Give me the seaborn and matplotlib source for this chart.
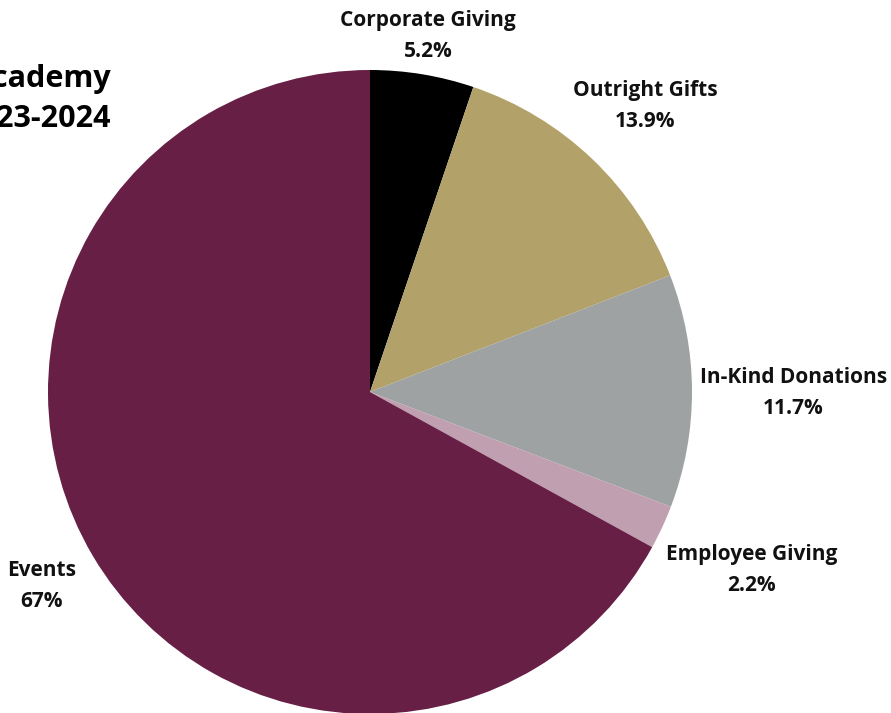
import numpy as np
import seaborn as sns
import matplotlib.pyplot as plt

# --- DATA ---
categories = ["Corporate Giving", "Outright Gifts", "In-Kind Donations", "Employee Giving", "Events"]
shares = [5.2, 13.9, 11.7, 2.2, 67.0]
share_labels = ["5.2%", "13.9%", "11.7%", "2.2%", "67%"]
colors = ["#000000", "#B2A26A", "#9EA2A2", "#C09FB0", "#671F45"]

# label positions in axis units (pie radius = 1)
label_pos = [(0.18, 1.106), (0.854, 0.888), (1.314, -0.003), (1.186, -0.553), (-1.019, -0.602)]

sns.set_theme(style="white")
plt.rcParams["font.family"] = ["Open Sans", "DejaVu Sans"]

fig = plt.figure(figsize=(8.91, 7.13), dpi=100)
ax = fig.add_axes([48 / 891, -1 / 713, 644 / 891, 644 / 713])

ax.pie(shares, colors=colors, startangle=90, counterclock=False,
       wedgeprops=dict(linewidth=0))
ax.set_xlim(-1, 1)
ax.set_ylim(-1, 1)
ax.set_aspect("equal")
ax.axis("off")

for name, pct, (x, y) in zip(categories, share_labels, label_pos):
    ax.text(x, y, f"{name}\n{pct}", ha="center", va="center", fontsize=15,
            fontweight="bold", linespacing=1.65, color="#111111", clip_on=False)

# title (cut off at the left edge in the original)
fig.text(111 / 891, 1 - 99 / 713, "Academy\n2023-2024", ha="right", va="center",
         fontsize=22, fontweight="bold", linespacing=1.45, color="black")

fig.savefig("out.png", dpi=100)
